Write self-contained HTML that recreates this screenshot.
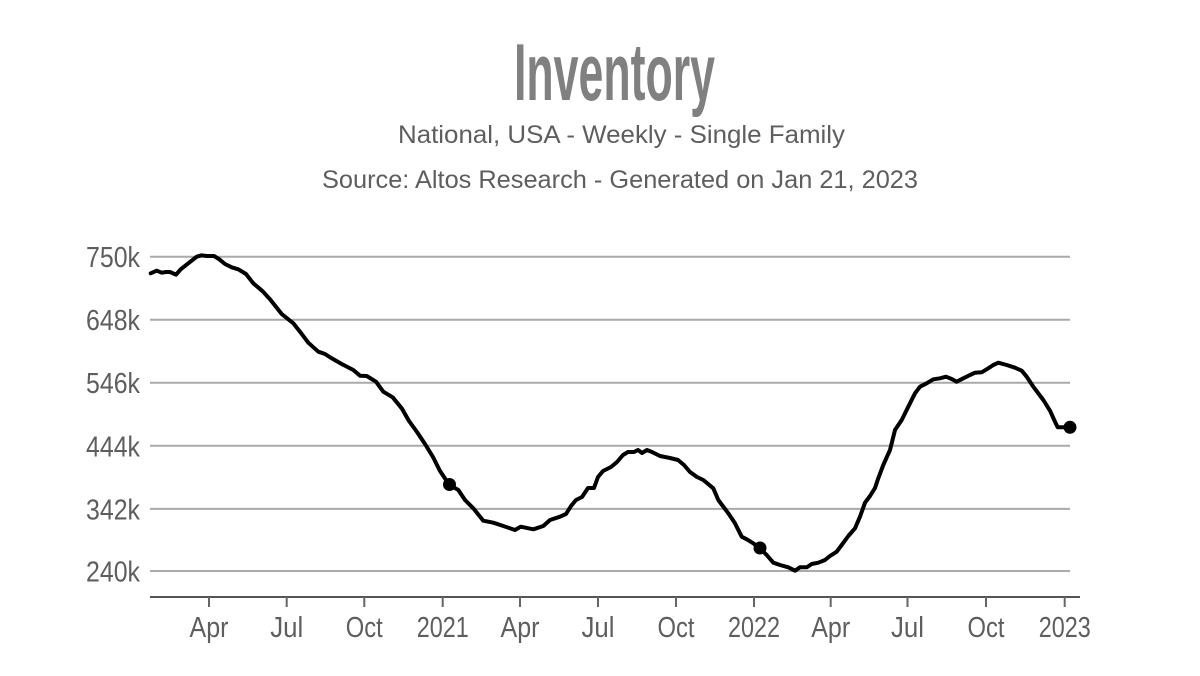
<!DOCTYPE html>
<html>
<head>
<meta charset="utf-8">
<style>
  html,body{margin:0;padding:0;background:#fff;}
  svg{display:block;}
  text{font-family:"Liberation Sans",sans-serif;}
</style>
</head>
<body>
<svg width="1200" height="676" viewBox="0 0 1200 676" xmlns="http://www.w3.org/2000/svg">
  <rect width="1200" height="676" fill="#fff"/>
  <!-- Titles -->
  <text x="514" y="100" font-size="81" font-weight="bold" fill="#808080" textLength="201" lengthAdjust="spacingAndGlyphs">Inventory</text>
  <text x="398" y="143" font-size="25" fill="#5e5e5e" textLength="447" lengthAdjust="spacingAndGlyphs">National, USA - Weekly - Single Family</text>
  <text x="322" y="188" font-size="25" fill="#5e5e5e" textLength="596" lengthAdjust="spacingAndGlyphs">Source: Altos Research - Generated on Jan 21, 2023</text>

  <!-- Gridlines -->
  <g stroke="#aaaaaa" stroke-width="2">
    <line x1="150" y1="256.7" x2="1070" y2="256.7"/>
    <line x1="150" y1="319.7" x2="1070" y2="319.7"/>
    <line x1="150" y1="382.7" x2="1070" y2="382.7"/>
    <line x1="150" y1="445.8" x2="1070" y2="445.8"/>
    <line x1="150" y1="508.9" x2="1070" y2="508.9"/>
    <line x1="150" y1="571" x2="1070" y2="571"/>
  </g>

  <!-- Y labels -->
  <g font-size="29" fill="#5e5e5e" text-anchor="end">
    <text x="140" y="267.2" textLength="54" lengthAdjust="spacingAndGlyphs">750k</text>
    <text x="140" y="330.2" textLength="54" lengthAdjust="spacingAndGlyphs">648k</text>
    <text x="140" y="393.2" textLength="54" lengthAdjust="spacingAndGlyphs">546k</text>
    <text x="140" y="456.3" textLength="54" lengthAdjust="spacingAndGlyphs">444k</text>
    <text x="140" y="519.4" textLength="54" lengthAdjust="spacingAndGlyphs">342k</text>
    <text x="140" y="581.5" textLength="54" lengthAdjust="spacingAndGlyphs">240k</text>
  </g>

  <!-- X axis -->
  <line x1="150" y1="597" x2="1080" y2="597" stroke="#555" stroke-width="2"/>
  <g stroke="#666" stroke-width="2">
    <line x1="209" y1="597" x2="209" y2="607"/>
    <line x1="286.7" y1="597" x2="286.7" y2="607"/>
    <line x1="364.3" y1="597" x2="364.3" y2="607"/>
    <line x1="442.7" y1="597" x2="442.7" y2="607"/>
    <line x1="520" y1="597" x2="520" y2="607"/>
    <line x1="598" y1="597" x2="598" y2="607"/>
    <line x1="676" y1="597" x2="676" y2="607"/>
    <line x1="754" y1="597" x2="754" y2="607"/>
    <line x1="830.7" y1="597" x2="830.7" y2="607"/>
    <line x1="907.5" y1="597" x2="907.5" y2="607"/>
    <line x1="986" y1="597" x2="986" y2="607"/>
    <line x1="1064.7" y1="597" x2="1064.7" y2="607"/>
  </g>
  <g font-size="29" fill="#5e5e5e" text-anchor="middle">
    <text x="209" y="637" textLength="39" lengthAdjust="spacingAndGlyphs">Apr</text>
    <text x="286.7" y="637" textLength="33" lengthAdjust="spacingAndGlyphs">Jul</text>
    <text x="364.3" y="637" textLength="37" lengthAdjust="spacingAndGlyphs">Oct</text>
    <text x="442.7" y="637" textLength="52" lengthAdjust="spacingAndGlyphs">2021</text>
    <text x="520" y="637" textLength="39" lengthAdjust="spacingAndGlyphs">Apr</text>
    <text x="598" y="637" textLength="33" lengthAdjust="spacingAndGlyphs">Jul</text>
    <text x="676" y="637" textLength="37" lengthAdjust="spacingAndGlyphs">Oct</text>
    <text x="754" y="637" textLength="52" lengthAdjust="spacingAndGlyphs">2022</text>
    <text x="830.7" y="637" textLength="39" lengthAdjust="spacingAndGlyphs">Apr</text>
    <text x="907.5" y="637" textLength="33" lengthAdjust="spacingAndGlyphs">Jul</text>
    <text x="986" y="637" textLength="37" lengthAdjust="spacingAndGlyphs">Oct</text>
    <text x="1064.7" y="637" textLength="52" lengthAdjust="spacingAndGlyphs">2023</text>
  </g>

  <!-- Data line -->
  <polyline fill="none" stroke="#000" stroke-width="4" stroke-linejoin="round" stroke-linecap="round"
    points="150.7,273.3 156.7,270.7 161.7,272.7 166,272 170,272 176,274.7 180.7,269.3 188.3,263.3 196.7,256.7 201.7,255.3 206.7,256 214,256 219.3,259.3 225,264 231.7,267.3 238.3,269.3 246,274 253.3,283.3 262.7,291.3 270,299.3 281.7,314 293.3,323.3 300,331.7 308.3,342.7 318.3,351.7 325,354 331.7,358.3 341.7,364 353.3,370 360,375.7 366.7,376 376,381.7 383.3,391.7 392.7,397.3 401.7,408.3 409,421 417,432 425,444 433,457 440,471 449.3,484.7 458.3,490 465,500 473.3,508.3 483.3,520.7 493.3,522.7 503.3,526 515,530 520.7,526.7 533.3,529.3 543.3,526 550,520 560,516.7 566,514 571,506 576,500 582,497 588,488 594,488 598,477 603,471 611,467 617,462 623,455 628,452 634,452 638,450 642,453 647,450 652,452 660,456 670,458 678,460 684,465 690,472 697,477 703.3,480 713.3,488.3 718.3,500 728.3,513.3 735,523.3 741.7,536.7 746.7,539.3 753.3,543.3 760,548.3 766.7,555 773.3,562.7 780,565 788.3,567.3 795,570.7 800,567.3 806.7,567.3 811.7,564 818.3,562.7 825,560 830,556 836.7,551.7 841.7,545 848.3,536 855,528.3 860,516.7 865,502.7 870,496 875,488 878,479 883.3,465 890,450 895,430 901.7,420 908.3,406.7 915,393.3 920,386.7 926.7,383.3 933.3,379.3 940,378.3 946,376.7 951.7,379 956.7,381.7 963.3,378.3 970,375 975,372.7 981.7,372.3 988.3,368.3 993.3,365 998.3,362.7 1006.7,365 1015,367.7 1021.7,370.7 1026.7,376.7 1033.3,386.7 1043.3,400 1050,410.7 1055,421.7 1057.7,427.3 1061.7,427.3 1070,427.3"/>

  <!-- Markers -->
  <circle cx="449.5" cy="484.5" r="6.5" fill="#000"/>
  <circle cx="760" cy="548" r="6.5" fill="#000"/>
  <circle cx="1070" cy="427.3" r="6.5" fill="#000"/>
</svg>
</body>
</html>
